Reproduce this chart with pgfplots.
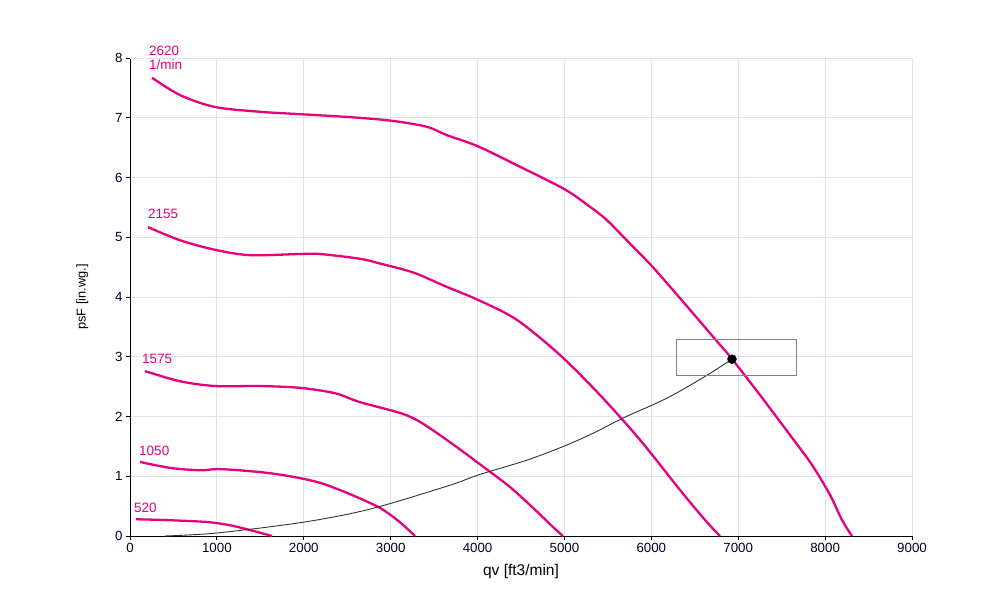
\documentclass[border=0pt]{standalone}
\usepackage{pgfplots}
\pgfplotsset{compat=1.18}
\usepackage{fontspec}
\setmainfont{Liberation Sans}
\definecolor{fanpink}{RGB}{230,0,126}
\definecolor{gridc}{RGB}{220,228,238}
\begin{document}
\begin{tikzpicture}[x=1pt,y=1pt]
\begin{axis}[
  at={(0,0)}, anchor=south west,
  scale only axis, width=782pt, height=478pt,
  xmin=0, xmax=9000, ymin=0, ymax=8,
  xtick={0,1000,...,9000}, ytick={0,1,...,8},
  grid=major, grid style={gridc, line width=0.8pt},
  axis x line*=bottom, axis y line*=left,
  axis line style={black, line width=0.9pt, -},
  tick align=outside, tick style={black, line width=0.8pt},
  major tick length=4pt,
  tick label style={font=\fontsize{13.3}{13}\selectfont, text=black!85!blue},
  /pgf/number format/assume math mode=true,
  /pgf/number format/1000 sep={},
  xlabel={qv [ft3/min]}, ylabel={psF [in.wg.]},
  xlabel style={font=\fontsize{15.5}{15}\selectfont, yshift=-4pt},
  ylabel style={font=\fontsize{12.8}{13}\selectfont, yshift=20pt},
  clip=false,
]
% border top/right
\addplot[gridc, line width=0.8pt] coordinates {(0,8) (9000,8) (9000,0)};
% 2620
\addplot[fanpink, line width=2.3pt, smooth, tension=0.5] coordinates {
(253,7.67) (575,7.38) (978,7.18) (1496,7.10) (1957,7.06) (2532,7.01) (3012,6.95) (3414,6.85)
(3645,6.71) (4008,6.52) (4488,6.18) (5006,5.80) (5294,5.51) (5486,5.29) (5716,4.95) (6011,4.51)
(6330,3.98) (6560,3.59) (6790,3.20) (6925,2.97)
(7250,2.36) (7596,1.69) (7849,1.19) (8056,0.69) (8194,0.27) (8309,0)};
% 2155
\addplot[fanpink, line width=2.3pt, smooth, tension=0.5] coordinates {
(207,5.17) (575,4.95) (978,4.79) (1381,4.70) (1957,4.72) (2186,4.72) (2647,4.64) (2877,4.56)
(3260,4.41) (3645,4.17) (4008,3.95) (4450,3.62) (4948,3.03) (5409,2.36) (5869,1.61) (6330,0.77)
(6617,0.27) (6790,0)};
% 1575
\addplot[fanpink, line width=2.3pt, smooth, tension=0.5] coordinates {
(173,2.76) (575,2.59) (978,2.51) (1496,2.51) (1957,2.48) (2359,2.39) (2647,2.24) (3107,2.06)
(3338,1.91) (3683,1.57) (4028,1.20) (4373,0.82) (4661,0.44) (4868,0.15) (4983,0)};
% 1050
\addplot[fanpink, line width=2.3pt, smooth, tension=0.5] coordinates {
(115,1.24) (460,1.14) (806,1.10) (1036,1.12) (1496,1.07) (1841,1.00) (2187,0.89) (2532,0.70)
(2877,0.47) (3107,0.23) (3280,0)};
% 520
\addplot[fanpink, line width=2.3pt, smooth, tension=0.5] coordinates {
(69,0.28) (345,0.27) (690,0.25) (921,0.23) (1151,0.18) (1381,0.10) (1634,0)};
% system curve
\addplot[black!80, line width=0.9pt, smooth] coordinates {
(400,0.0) (998,0.05) (1991,0.23) (2762,0.45) (3683,0.85) (4005,1.02) (4569,1.27) (5006,1.51)
(5329,1.72) (5697,1.99) (6008,2.19) (6249,2.36) (6640,2.69) (6928,2.96)};
% box
\addplot[black!50, line width=0.9pt] coordinates {(6284,2.68) (7665,2.68) (7665,3.29) (6284,3.29) (6284,2.68)};
% operating point
\addplot[only marks, mark=*, mark size=4.5pt, black] coordinates {(6928,2.96)};
% labels
\node[anchor=base west, inner sep=0pt, text=fanpink, font=\fontsize{13.5}{13}\selectfont] at (axis cs:219,8.05) {2620};
\node[anchor=base west, inner sep=0pt, text=fanpink, font=\fontsize{13.5}{13}\selectfont] at (axis cs:219,7.80) {1/min};
\node[anchor=base west, inner sep=0pt, text=fanpink, font=\fontsize{13.5}{13}\selectfont] at (axis cs:207,5.31) {2155};
\node[anchor=base west, inner sep=0pt, text=fanpink, font=\fontsize{13.5}{13}\selectfont] at (axis cs:138,2.88) {1575};
\node[anchor=base west, inner sep=0pt, text=fanpink, font=\fontsize{13.5}{13}\selectfont] at (axis cs:104,1.34) {1050};
\node[anchor=base west, inner sep=0pt, text=fanpink, font=\fontsize{13.5}{13}\selectfont] at (axis cs:46,0.40) {520};
\end{axis}
\pgfresetboundingbox
\path (-130pt,-64pt) rectangle (870pt,536pt);
\end{tikzpicture}
\end{document}
